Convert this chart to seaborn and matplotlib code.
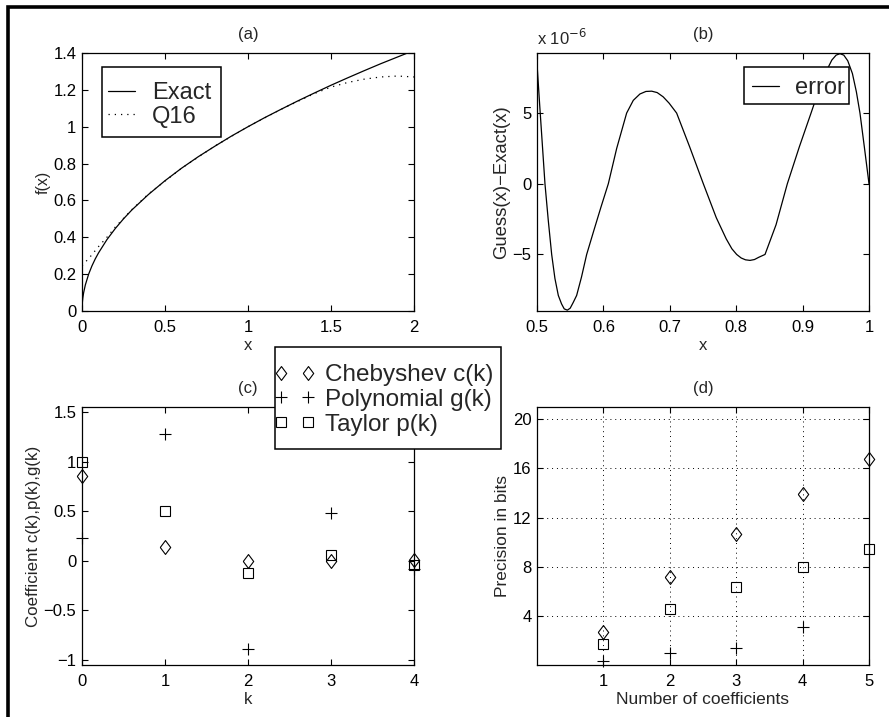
import numpy as np
import matplotlib
matplotlib.use("Agg")
import matplotlib.pyplot as plt
from matplotlib.patches import Rectangle
import seaborn as sns

# (a) exact curve and the Q16 approximation
x_exact = [0, 0.002, 0.005, 0.01, 0.02, 0.04, 0.06, 0.08, 0.1, 0.15, 0.2, 0.25, 0.3, 0.4,
           0.5, 0.6, 0.7, 0.8, 0.9, 1.0, 1.1, 1.2, 1.3, 1.4, 1.5, 1.6, 1.7, 1.8, 1.9, 2.0]
y_exact = [0, 0.045, 0.071, 0.1, 0.141, 0.2, 0.245, 0.283, 0.316, 0.387, 0.447, 0.5, 0.548,
           0.632, 0.707, 0.775, 0.837, 0.894, 0.949, 1.0, 1.049, 1.095, 1.140, 1.183,
           1.225, 1.265, 1.304, 1.342, 1.378, 1.414]
x_q16 = [0, 0.05, 0.1, 0.15, 0.2, 0.3, 0.4, 0.6, 0.8, 1.0, 1.2, 1.4, 1.5, 1.6, 1.7, 1.8, 1.9, 2.0]
y_q16 = [0.245, 0.295, 0.35, 0.40, 0.455, 0.55, 0.635, 0.775, 0.895, 1.0, 1.095, 1.18,
         1.215, 1.24, 1.258, 1.27, 1.275, 1.27]

# (b) error curve, in units of 1e-6
x_err = [0.5, 0.504, 0.508, 0.512, 0.517, 0.5221, 0.527, 0.5321, 0.537, 0.541, 0.5457,
         0.550, 0.5545, 0.5597, 0.567, 0.5748, 0.585, 0.596, 0.6074, 0.62, 0.635, 0.645,
         0.655, 0.664, 0.6727, 0.681, 0.69, 0.699, 0.7103, 0.73, 0.7505, 0.77, 0.785,
         0.7935, 0.8007, 0.8075, 0.814, 0.8208, 0.8275, 0.834, 0.8434, 0.86, 0.877, 0.895,
         0.9127, 0.925, 0.935, 0.944, 0.9505, 0.9563, 0.962, 0.968, 0.975, 0.981, 0.9864,
         0.993, 1.0]
y_err = [8.5, 5.6, 2.8, 0.0, -2.6, -5.0, -6.7, -7.9, -8.5, -8.85, -8.94, -8.8, -8.4, -7.9,
         -6.6, -5.0, -3.4, -1.7, 0.0, 2.5, 5.0, 5.9, 6.35, 6.53, 6.55, 6.45, 6.15, 5.7, 5.0,
         2.6, 0.0, -2.4, -3.9, -4.6, -5.0, -5.25, -5.38, -5.42, -5.36, -5.2, -5.0, -2.9, 0.0,
         2.6, 5.0, 6.7, 7.9, 8.75, 9.1, 9.2, 9.1, 8.7, 7.8, 6.5, 5.0, 2.6, 0.0]

# (c) coefficients
k = [0, 1, 2, 3, 4]
cheb_c = [0.854, 0.144, -0.003, -0.003, 0.005]
poly_g = [0.228, 1.28, -0.89, 0.48, -0.08]
taylor_p = [1.0, 0.5, -0.125, 0.0625, -0.039]

# (d) precision in bits
n_coef = [1, 2, 3, 4, 5]
cheb_bits = [2.67, 7.15, 10.67, 13.9, 16.76]
poly_bits = [0.34, 0.94, 1.42, 3.13]
taylor_bits = [1.75, 4.54, 6.38, 8.0, 9.45]

sns.set_style("ticks")
plt.rcParams['font.family'] = ['Liberation Sans', 'DejaVu Sans']
plt.rcParams['axes.linewidth'] = 0.9

W, H = 889, 717
fig = plt.figure(figsize=(W / 100, H / 100), dpi=100)


def px_axes(left, top, right, bottom):
    return fig.add_axes([left / W, 1 - bottom / H, (right - left) / W, (bottom - top) / H])


def legend_box(left, top, right, bottom):
    # white box with black edge behind a frameless legend, in figure pixels
    fig.add_artist(Rectangle((left / W, 1 - bottom / H), (right - left) / W,
                             (bottom - top) / H, transform=fig.transFigure,
                             facecolor='white', edgecolor='black', lw=1.1, zorder=4))


def legend_at(handles, labels, x, y, **kw):
    fig.legend(handles, labels, loc='upper left', bbox_to_anchor=(x / W, 1 - y / H),
               frameon=False, borderpad=0, borderaxespad=0, **kw)


ax_a = px_axes(82, 53, 414, 311)
ax_b = px_axes(537, 53, 869, 311)
ax_c = px_axes(82, 407, 414, 665)
ax_d = px_axes(537, 407, 869, 665)

diamond = [(-0.75, 0), (0, 1), (0.75, 0), (0, -1), (-0.75, 0)]
mk = dict(color='black', linestyle='', markerfacecolor='none', markeredgecolor='black',
          markeredgewidth=0.8, clip_on=False)

# (a)
sns.lineplot(x=x_exact, y=y_exact, ax=ax_a, color='black', lw=0.9, label='Exact')
sns.lineplot(x=x_q16, y=y_q16, ax=ax_a, color='black', lw=0.9, linestyle=(0, (1, 4)),
             label='Q16')
ax_a.set_xlim(0, 2)
ax_a.set_ylim(0, 1.4)
ax_a.set_xticks([0, 0.5, 1, 1.5, 2])
ax_a.set_xticklabels(['0', '0.5', '1', '1.5', '2'])
ax_a.set_yticks([0, 0.2, 0.4, 0.6, 0.8, 1, 1.2, 1.4])
ax_a.set_yticklabels(['0', '0.2', '0.4', '0.6', '0.8', '1', '1.2', '1.4'])
ax_a.set_xlabel('x', fontsize=12, labelpad=2)
ax_a.set_ylabel('f(x)', fontsize=11.5, labelpad=2)
ax_a.set_title('(a)', fontsize=12, pad=10)
h, l = ax_a.get_legend_handles_labels()
ax_a.get_legend().remove()
legend_box(102, 67, 221, 137)
legend_at(h, l, 108, 82, fontsize=17, handlelength=1.14, labelspacing=0.07,
          handletextpad=0.72)

# (b)
sns.lineplot(x=x_err, y=y_err, ax=ax_b, color='black', lw=0.9, label='error')
ax_b.set_xlim(0.5, 1)
ax_b.set_ylim(-9.0, 9.25)
ax_b.set_xticks([0.5, 0.6, 0.7, 0.8, 0.9, 1])
ax_b.set_xticklabels(['0.5', '0.6', '0.7', '0.8', '0.9', '1'])
ax_b.set_yticks([-5, 0, 5])
ax_b.set_yticklabels(['\u22125', '0', '5'])
ax_b.set_xlabel('x', fontsize=12, labelpad=2)
ax_b.set_ylabel('Guess(x)\u2212Exact(x)', fontsize=13.3, labelpad=2)
ax_b.set_title('(b)', fontsize=12, pad=10)
ax_b.text(0, 1.02, 'x 10$^{-6}$', transform=ax_b.transAxes, fontsize=12,
          ha='left', va='bottom')
h, l = ax_b.get_legend_handles_labels()
ax_b.get_legend().remove()
legend_box(744, 67, 849, 104)
legend_at(h, l, 752, 77, fontsize=17, handlelength=1.14, handletextpad=0.68)

# (c)
sns.lineplot(x=k, y=cheb_c, ax=ax_c, marker=diamond, markersize=10, label='Chebyshev c(k)', **mk)
sns.lineplot(x=k, y=poly_g, ax=ax_c, marker='+', markersize=9, label='Polynomial g(k)', **mk)
sns.lineplot(x=k, y=taylor_p, ax=ax_c, marker='s', markersize=6.5, label='Taylor p(k)', **mk)
ax_c.set_xlim(0, 4)
ax_c.set_ylim(-1.05, 1.55)
ax_c.set_xticks([0, 1, 2, 3, 4])
ax_c.set_yticks([-1, -0.5, 0, 0.5, 1, 1.5])
ax_c.set_yticklabels(['\u22121', '\u22120.5', '0', '0.5', '1', '1.5'])
ax_c.set_xlabel('k', fontsize=12, labelpad=2)
ax_c.set_ylabel('Coefficient c(k),p(k),g(k)', fontsize=12.2, labelpad=2)
ax_c.set_title('(c)', fontsize=12, pad=10)
h, l = ax_c.get_legend_handles_labels()
ax_c.get_legend().remove()
legend_box(275, 347, 501, 449)
legend_at(h, l, 274, 364, numpoints=2, fontsize=17.5, handlelength=1.71,
          labelspacing=0.12, handletextpad=0.38)

# (d)
sns.lineplot(x=n_coef, y=cheb_bits, ax=ax_d, marker=diamond, markersize=10, **mk)
sns.lineplot(x=n_coef[:4], y=poly_bits, ax=ax_d, marker='+', markersize=9, **mk)
sns.lineplot(x=n_coef, y=taylor_bits, ax=ax_d, marker='s', markersize=6.5, **mk)
ax_d.set_xlim(0, 5)
ax_d.set_ylim(0, 21)
ax_d.set_xticks([1, 2, 3, 4, 5])
ax_d.set_yticks([4, 8, 12, 16, 20])
ax_d.grid(True, linestyle=(0, (1, 4)), color='black', lw=0.7)
ax_d.set_xlabel('Number of coefficients', fontsize=12.5, labelpad=2)
ax_d.set_ylabel('Precision in bits', fontsize=12.5, labelpad=2)
ax_d.set_title('(d)', fontsize=12, pad=10)

for ax in (ax_a, ax_b, ax_c, ax_d):
    ax.tick_params(direction='in', top=True, right=True, length=4, width=0.8,
                   labelsize=12, colors='black')
    ax.tick_params(axis='x', pad=6.5)
    ax.tick_params(axis='y', pad=4)
    for s in ax.spines.values():
        s.set_color('black')

# outer frame of the figure
fig.add_artist(Rectangle((8 / W, -0.05), 1.5, 1.05 - 7 / H, transform=fig.transFigure,
                         fill=False, lw=2.6, edgecolor='black', clip_on=False))

fig.savefig('out.png', dpi=100)
